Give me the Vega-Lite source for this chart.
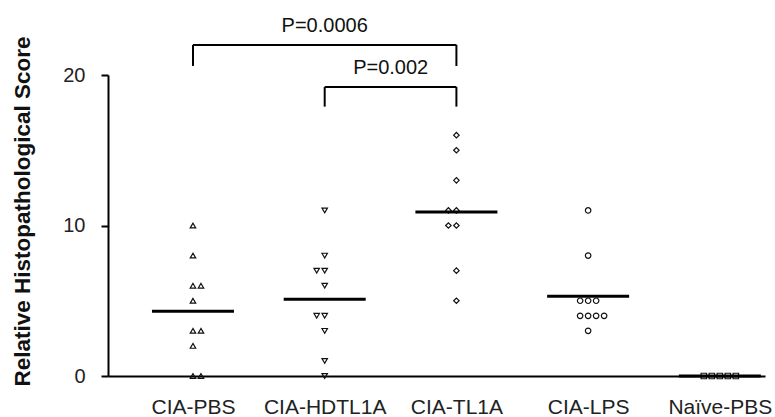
{
  "$schema": "https://vega.github.io/schema/vega-lite/v6.json",
  "width": 657,
  "height": 301,
  "autosize": {"type": "none"},
  "padding": {"left": 108, "top": 75, "right": 10, "bottom": 41},
  "background": "white",
  "config": {
    "view": {"stroke": null},
    "font": "Liberation Sans",
    "axis": {"grid": false, "domainColor": "#000", "domainWidth": 2, "tickColor": "#000", "tickWidth": 2, "labelFont": "Liberation Sans", "labelFontSize": 20, "labelColor": "#222", "titleFont": "Liberation Sans"}
  },
  "datasets": {
    "scores": [
      {"group": "CIA-PBS", "score": 10, "k": 0},
      {"group": "CIA-PBS", "score": 8, "k": 0},
      {"group": "CIA-PBS", "score": 6, "k": 0},
      {"group": "CIA-PBS", "score": 6, "k": 1},
      {"group": "CIA-PBS", "score": 5, "k": 0},
      {"group": "CIA-PBS", "score": 3, "k": 0},
      {"group": "CIA-PBS", "score": 3, "k": 1},
      {"group": "CIA-PBS", "score": 2, "k": 0},
      {"group": "CIA-PBS", "score": 0, "k": 0},
      {"group": "CIA-PBS", "score": 0, "k": 1},
      {"group": "CIA-HDTL1A", "score": 11, "k": 0},
      {"group": "CIA-HDTL1A", "score": 8, "k": 0},
      {"group": "CIA-HDTL1A", "score": 7, "k": -1},
      {"group": "CIA-HDTL1A", "score": 7, "k": 0},
      {"group": "CIA-HDTL1A", "score": 6, "k": 0},
      {"group": "CIA-HDTL1A", "score": 4, "k": -1},
      {"group": "CIA-HDTL1A", "score": 4, "k": 0},
      {"group": "CIA-HDTL1A", "score": 3, "k": 0},
      {"group": "CIA-HDTL1A", "score": 1, "k": 0},
      {"group": "CIA-HDTL1A", "score": 0, "k": 0},
      {"group": "CIA-TL1A", "score": 16, "k": 0},
      {"group": "CIA-TL1A", "score": 15, "k": 0},
      {"group": "CIA-TL1A", "score": 13, "k": 0},
      {"group": "CIA-TL1A", "score": 11, "k": -1},
      {"group": "CIA-TL1A", "score": 11, "k": 0},
      {"group": "CIA-TL1A", "score": 10, "k": -1},
      {"group": "CIA-TL1A", "score": 10, "k": 0},
      {"group": "CIA-TL1A", "score": 7, "k": 0},
      {"group": "CIA-TL1A", "score": 5, "k": 0},
      {"group": "CIA-LPS", "score": 11, "k": 0},
      {"group": "CIA-LPS", "score": 8, "k": 0},
      {"group": "CIA-LPS", "score": 5, "k": -1},
      {"group": "CIA-LPS", "score": 5, "k": 0},
      {"group": "CIA-LPS", "score": 5, "k": 1},
      {"group": "CIA-LPS", "score": 4, "k": -1},
      {"group": "CIA-LPS", "score": 4, "k": 0},
      {"group": "CIA-LPS", "score": 4, "k": 1},
      {"group": "CIA-LPS", "score": 4, "k": 2},
      {"group": "CIA-LPS", "score": 3, "k": 0},
      {"group": "Naïve-PBS", "score": 0, "k": -2},
      {"group": "Naïve-PBS", "score": 0, "k": -1},
      {"group": "Naïve-PBS", "score": 0, "k": 0},
      {"group": "Naïve-PBS", "score": 0, "k": 1},
      {"group": "Naïve-PBS", "score": 0, "k": 2}
    ],
    "spans": [
      {"from": "CIA-PBS", "to": "CIA-TL1A", "y": 22.0},
      {"from": "CIA-HDTL1A", "to": "CIA-TL1A", "y": 19.2}
    ],
    "legs": [
      {"at": "CIA-PBS", "y1": 20.6, "y2": 22.0},
      {"at": "CIA-TL1A", "y1": 20.6, "y2": 22.0},
      {"at": "CIA-HDTL1A", "y1": 17.9, "y2": 19.2},
      {"at": "CIA-TL1A", "y1": 17.9, "y2": 19.2}
    ],
    "labels": [
      {"at": "CIA-HDTL1A", "y": 23.25, "text": "P=0.0006"}
    ],
    "labels2": [
      {"at": "CIA-HDTL1A", "y": 20.45, "text": "P=0.002"}
    ]
  },
  "layer": [
    {
      "data": {"name": "scores"},
      "mark": {"type": "point", "filled": false, "stroke": "#111", "strokeWidth": 1.2, "size": 30, "opacity": 1},
      "encoding": {
        "x": {"field": "group", "type": "nominal", "sort": null,
          "scale": {"type": "point", "domain": ["CIA-PBS", "CIA-HDTL1A", "CIA-TL1A", "CIA-LPS", "Naïve-PBS"], "padding": 0.494, "align": 0.653},
          "axis": {"title": null, "ticks": false, "tickSize": 0, "labelPadding": 20, "labelAngle": 0, "labelFontSize": 21}},
        "xOffset": {"field": "k", "type": "quantitative", "scale": {"domain": [-2, 2], "range": [-16, 16]}},
        "y": {"field": "score", "type": "quantitative",
          "scale": {"domain": [0, 20], "nice": false, "zero": true},
          "axis": {"values": [0, 10, 20], "tickSize": 7, "labelPadding": 16, "title": "Relative Histopathological Score", "titleFontSize": 22.5, "titleFontWeight": "bold", "titleColor": "#111", "titleAngle": -90, "titleBaseline": "alphabetic", "titleX": -79, "titleY": 136, "titleAlign": "center"}},
        "shape": {"field": "group", "type": "nominal",
          "scale": {"domain": ["CIA-PBS", "CIA-HDTL1A", "CIA-TL1A", "CIA-LPS", "Naïve-PBS"], "range": ["triangle-up", "triangle-down", "diamond", "circle", "square"]},
          "legend": null}
      }
    },
    {
      "data": {"name": "scores"},
      "mark": {"type": "tick", "color": "#000", "size": 82, "thickness": 3, "opacity": 1},
      "encoding": {
        "x": {"field": "group", "type": "nominal", "sort": null},
        "y": {"aggregate": "mean", "field": "score", "type": "quantitative"}
      }
    },
    {
      "data": {"name": "spans"},
      "mark": {"type": "rule", "color": "#000", "strokeWidth": 2},
      "encoding": {
        "x": {"field": "from", "type": "nominal", "sort": null},
        "x2": {"field": "to"},
        "y": {"field": "y", "type": "quantitative"}
      }
    },
    {
      "data": {"name": "legs"},
      "mark": {"type": "rule", "color": "#000", "strokeWidth": 2},
      "encoding": {
        "x": {"field": "at", "type": "nominal", "sort": null},
        "y": {"field": "y1", "type": "quantitative"},
        "y2": {"field": "y2"}
      }
    },
    {
      "data": {"name": "labels"},
      "mark": {"type": "text", "fontSize": 20, "color": "#111", "baseline": "middle", "align": "center"},
      "encoding": {
        "x": {"field": "at", "type": "nominal", "sort": null},
        "y": {"field": "y", "type": "quantitative"},
        "text": {"field": "text"}
      }
    },
    {
      "data": {"name": "labels2"},
      "mark": {"type": "text", "fontSize": 20, "color": "#111", "baseline": "middle", "align": "center", "dx": 66},
      "encoding": {
        "x": {"field": "at", "type": "nominal", "sort": null},
        "y": {"field": "y", "type": "quantitative"},
        "text": {"field": "text"}
      }
    }
  ]
}
